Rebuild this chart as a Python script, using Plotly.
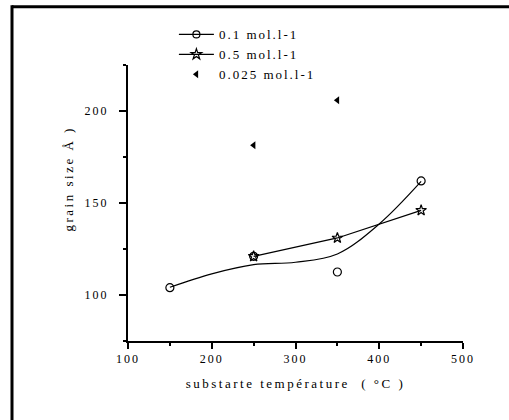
import plotly.graph_objects as go

# 0.1 mol.l-1 (measured points)
temp_01 = [150, 250, 350, 450]
size_01 = [104, 121, 112.5, 162]
# smooth fitted curve drawn for 0.1 mol.l-1
fit_temp_01 = [150, 200, 250, 300, 350, 400, 450]
fit_size_01 = [104.2, 111.5, 116.5, 117.8, 122.3, 138.6, 161.7]
# 0.5 mol.l-1
temp_05 = [250, 350, 450]
size_05 = [121, 131, 146]
# 0.025 mol.l-1
temp_0025 = [250, 350]
size_0025 = [181.4, 205.8]

FONT = "Liberation Serif, Times New Roman, serif"

fig = go.Figure()

fig.add_trace(go.Scatter(
    x=fit_temp_01, y=fit_size_01, mode="lines",
    line=dict(color="black", width=1.2, shape="spline", smoothing=1.0),
    showlegend=False, hoverinfo="skip"))
fig.add_trace(go.Scatter(
    x=[None], y=[None], mode="lines+markers", name="0.1 mol.l-1",
    line=dict(color="black", width=1.2),
    marker=dict(symbol="circle-open", size=7, color="black", line=dict(width=1.2))))
fig.add_trace(go.Scatter(
    x=temp_01, y=size_01, mode="markers", showlegend=False,
    marker=dict(symbol="circle-open", size=8, color="black", line=dict(width=1.2))))
fig.add_trace(go.Scatter(
    x=temp_05, y=size_05, mode="lines+markers", name="0.5 mol.l-1",
    line=dict(color="black", width=1.2),
    marker=dict(symbol="star-open", size=8, color="black", line=dict(width=1.2))))
fig.add_trace(go.Scatter(
    x=temp_0025, y=size_0025, mode="markers", name="0.025 mol.l-1",
    marker=dict(symbol="triangle-left", size=7, color="black")))

left = (12 - 128) / 335
top = (341 - 6.8) / 276
fig.update_layout(
    width=509, height=420,
    margin=dict(l=128, r=46, t=65, b=79),
    paper_bgcolor="white", plot_bgcolor="white",
    font=dict(family=FONT, size=12, color="black"),
    legend=dict(x=0.137, y=1.165, xanchor="left", yanchor="top",
                bgcolor="rgba(0,0,0,0)", font=dict(family=FONT, size=13),
                tracegroupgap=0, itemwidth=35),
    shapes=[
        dict(type="line", xref="paper", yref="paper", x0=left, x1=(509 - 128) / 335, y0=top, y1=top,
             line=dict(color="black", width=3), layer="below"),
        dict(type="line", xref="paper", yref="paper", x0=left, x1=left, y0=(341 - 420) / 276, y1=top + 1.5 / 276,
             line=dict(color="black", width=3), layer="below"),
    ],
    annotations=[dict(text="grain size Å )", xref="paper", yref="paper",
                      x=(68 - 128) / 335, y=(341 - 179) / 276, xanchor="center", yanchor="middle",
                      textangle=-90, showarrow=False, font=dict(family=FONT, size=13))],
)

fig.update_xaxes(
    range=[100, 500], dtick=100, tick0=0,
    showline=True, linecolor="black", linewidth=2, mirror=False,
    showgrid=False, zeroline=False,
    ticks="outside", ticklen=6, tickwidth=2, tickcolor="black",
    minor=dict(dtick=50, ticks="outside", ticklen=3, tickwidth=2, tickcolor="black"),
    tickfont=dict(family=FONT, size=12),
    title=dict(text="substarte température  ( °C )", font=dict(family=FONT, size=13), standoff=13),
)
fig.update_yaxes(
    range=[75, 225], dtick=50, tick0=0,
    showline=True, linecolor="black", linewidth=2, mirror=False,
    showgrid=False, zeroline=False,
    ticks="outside", ticklen=7, tickwidth=2, tickcolor="black",
    minor=dict(dtick=25, ticks="outside", ticklen=3, tickwidth=2, tickcolor="black"),
    tickfont=dict(family=FONT, size=12), ticklabelstandoff=8,
)

post = """
document.documentElement.style.overflow='hidden';
document.body.style.overflow='hidden';
document.body.style.margin='0';
var gd = document.getElementById('{plot_id}');
function ls(){
  gd.querySelectorAll('.xtick text, .ytick text').forEach(function(t){t.style.letterSpacing='2px';});
  gd.querySelectorAll('.g-xtitle text, .annotation-text').forEach(function(t){t.style.letterSpacing='2.5px';});
  gd.querySelectorAll('text.legendtext').forEach(function(t){t.style.letterSpacing='2px';});
  gd.querySelectorAll('.legend [clip-path], .legend').forEach(function(e){e.removeAttribute('clip-path');});
}
ls();
gd.on('plotly_afterplot', ls);
"""

fig.write_html("out.html", post_script=post)
